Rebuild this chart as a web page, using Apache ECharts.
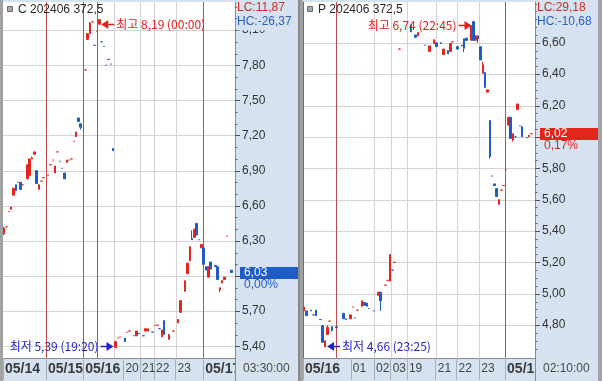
<!DOCTYPE html>
<html><head><meta charset="utf-8">
<script src="https://cdn.jsdelivr.net/npm/echarts@6/dist/echarts.min.js"></script>
<style>html,body{margin:0;padding:0;background:#fff}#c{width:602px;height:381px}</style>
</head><body><div id="c"></div>
<script>
// ---------------- DATA ----------------
const NBARS = 100; // bar slots per panel

// left panel (call)
const leftTitle = 'C 202406 372,5';
// [bar, open, close, low, high]
const leftCandles = [
 [0,6.36,6.41,6.35,6.42],[1,6.42,6.42,6.42,6.42],[2,6.55,6.55,6.55,6.55],[3,6.57,6.59,6.57,6.59],
 [4,6.69,6.75,6.69,6.75],[5,6.78,6.73,6.73,6.78],[6,6.80,6.80,6.80,6.80],[7,6.80,6.74,6.74,6.80],
 [8,6.78,6.78,6.78,6.78],[10,6.83,6.95,6.83,6.95],[11,6.86,7.00,6.86,7.00],[12,7.00,7.01,7.00,7.02],
 [13,7.04,7.06,7.04,7.06],[14,6.90,6.79,6.79,6.90],[15,6.74,6.78,6.74,6.78],[16,6.81,6.81,6.81,6.81],
 [17,6.84,6.84,6.84,6.84],[19,6.86,6.86,6.86,6.86],[20,6.95,6.95,6.95,6.95],[21,6.99,6.99,6.99,6.99],
 [22,6.88,6.94,6.88,6.94],[23,7.06,7.06,7.06,7.06],[24,6.98,6.98,6.98,6.98],[25,6.92,6.92,6.92,6.92],
 [26,6.88,6.83,6.83,6.88],[27,6.97,6.99,6.97,6.99],[28,6.99,6.99,6.99,6.99],[29,7.00,7.00,7.00,7.00],
 [30,7.15,7.15,7.15,7.15],[31,7.19,7.23,7.19,7.23],[32,7.35,7.32,7.32,7.35],[33,7.30,7.27,7.25,7.30],
 [35,7.76,7.76,7.76,7.76],[36,8.02,8.07,8.02,8.07],[37,8.07,8.16,8.07,8.17],[38,8.17,8.17,8.17,8.17],
 [39,7.97,7.97,7.97,7.97],[40,8.09,8.09,8.09,8.09],[41,8.15,8.19,8.15,8.19],[42,8.00,8.00,8.00,8.00],
 [43,7.96,7.96,7.96,7.96],[44,7.80,7.80,7.80,7.80],[45,7.85,7.85,7.85,7.85],[46,7.81,7.81,7.81,7.81],
 [47,7.09,7.07,7.07,7.09],[48,5.39,5.44,5.39,5.44],[49,5.47,5.47,5.47,5.47],[50,5.48,5.48,5.48,5.48],
 [52,5.47,5.44,5.44,5.47],[53,5.52,5.52,5.52,5.52],[54,5.53,5.53,5.53,5.53],[56,5.49,5.49,5.49,5.49],
 [57,5.49,5.53,5.49,5.53],[58,5.51,5.51,5.51,5.51],[60,5.49,5.49,5.49,5.49],[61,5.53,5.55,5.53,5.55],
 [62,5.53,5.55,5.53,5.55],[64,5.52,5.52,5.52,5.52],[65,5.58,5.58,5.58,5.58],[66,5.58,5.58,5.58,5.58],
 [67,5.55,5.55,5.55,5.55],[68,5.48,5.54,5.48,5.54],[69,5.62,5.50,5.50,5.62],[71,5.46,5.50,5.46,5.50],
 [73,5.53,5.53,5.53,5.53],[75,5.60,5.63,5.60,5.63],[76,5.69,5.79,5.69,5.79],[78,5.87,5.96,5.87,5.96],
 [79,6.02,6.11,6.02,6.11],[80,6.13,6.25,6.13,6.25],[81,6.32,6.31,6.31,6.39],[82,6.33,6.40,6.33,6.40],
 [83,6.45,6.35,6.35,6.45],[84,6.31,6.31,6.31,6.31],[85,6.24,6.27,6.24,6.27],[86,6.24,6.10,6.10,6.24],
 [87,6.08,6.05,6.05,6.08],[88,5.99,6.08,5.99,6.08],[89,6.12,6.06,6.06,6.12],[91,6.09,6.08,6.08,6.09],
 [92,6.08,5.97,5.97,6.08],[93,5.88,5.90,5.86,5.90],[94,5.94,5.96,5.94,5.96],[95,5.97,5.99,5.97,5.99],
 [96,6.34,6.34,6.34,6.34],[98,6.05,6.03,6.03,6.05]
];
const leftYRange = [5.30, 8.34];
const leftYTicks = [5.4, 5.7, 6.0, 6.3, 6.6, 6.9, 7.2, 7.5, 7.8, 8.1];
const leftYMinorStep = 0.1;
const leftRedLines = [18.0, 34.1, 40.0, 85.8];
const leftGrayLines = [47.3, 58.6, 64.6, 73.9];
const leftXTicks = [-0.5, 18.0, 34.1, 51.4, 58.6, 64.6, 73.9, 85.8];
const leftXLabels = ['05/14', '05/15', '05/16', '20', '21', '22', '23', '05/17'];
const leftExtremes = [[41, 8.19, '최고', '00:00'], [48, 5.39, '최저', '19:20']];
const leftLC = 'LC:11,87';
const leftHC = 'HC:-26,37';
const leftChange = '0,00%';
const leftClock = '03:30:00';

// right panel (put)
const rightTitle = 'P 202406 372,5';
const rightCandles = [
 [0,4.89,4.915,4.89,4.915],[1,4.89,4.86,4.86,4.89],[3,4.895,4.89,4.89,4.895],[4,4.865,4.865,4.865,4.865],
 [5,4.895,4.86,4.86,4.895],[7,4.835,4.835,4.835,4.835],[8,4.795,4.69,4.685,4.80],[9,4.66,4.70,4.66,4.70],
 [10,4.74,4.785,4.74,4.80],[11,4.825,4.825,4.825,4.825],[12,4.79,4.765,4.76,4.79],[14,4.79,4.785,4.785,4.79],
 [17,4.875,4.84,4.84,4.875],[18,4.84,4.835,4.835,4.84],[20,4.84,4.865,4.84,4.865],[21,4.915,4.915,4.915,4.915],
 [22,4.845,4.845,4.845,4.845],[23,4.895,4.895,4.895,4.895],[25,4.92,4.955,4.92,4.955],[26,4.945,4.925,4.925,4.945],
 [27,4.94,4.92,4.92,4.94],[28,4.905,4.905,4.905,4.905],[30,4.89,4.89,4.89,4.89],[32,4.99,5.01,4.99,5.01],
 [33,5.01,4.955,4.89,5.01],[35,5.055,5.055,5.055,5.055],[36,5.085,5.085,5.085,5.085],[37,5.08,5.25,5.08,5.25],
 [38,5.15,5.15,5.15,5.15],[39,5.20,5.20,5.20,5.20],[41,6.56,6.56,6.56,6.56],[46,6.715,6.67,6.67,6.715],
 [48,6.65,6.635,6.63,6.65],[49,6.645,6.665,6.645,6.665],[52,6.585,6.585,6.585,6.585],[54,6.545,6.58,6.545,6.58],
 [56,6.595,6.62,6.595,6.62],[57,6.60,6.575,6.575,6.60],[59,6.60,6.595,6.595,6.60],[60,6.525,6.56,6.525,6.56],
 [62,6.55,6.53,6.53,6.55],[63,6.545,6.595,6.545,6.595],[64,6.605,6.605,6.605,6.605],[66,6.575,6.56,6.56,6.575],
 [68,6.585,6.58,6.58,6.585],[69,6.625,6.565,6.54,6.625],[70,6.63,6.615,6.615,6.63],[72,6.615,6.71,6.615,6.71],
 [73,6.735,6.615,6.615,6.74],[74,6.615,6.645,6.615,6.645],[75,6.645,6.625,6.60,6.645],[76,6.575,6.49,6.49,6.575],
 [77,6.405,6.46,6.405,6.48],[78,6.41,6.315,6.315,6.41],[79,6.285,6.30,6.285,6.30],[80,6.105,5.875,5.86,6.105],
 [81,5.75,5.75,5.75,5.75],[82,5.70,5.69,5.69,5.70],[83,5.67,5.62,5.62,5.67],[84,5.57,5.60,5.565,5.60],
 [85,5.66,5.66,5.66,5.66],[86,5.69,5.69,5.69,5.69],[87,5.79,5.79,5.79,5.79],[88,6.075,6.125,6.075,6.125],
 [89,6.125,5.99,5.99,6.125],[90,5.98,6.02,5.97,6.02],[91,6.00,6.00,6.00,6.00],[92,6.175,6.21,6.175,6.21],
 [93,6.07,6.07,6.07,6.07],[94,6.065,6.00,6.00,6.065],[96,5.995,5.995,5.995,5.995],[97,6.00,6.01,6.00,6.01],
 [98,6.02,6.02,6.02,6.02]
];
const rightYRange = [4.59, 6.86];
const rightYTicks = [4.8, 5.0, 5.2, 5.4, 5.6, 5.8, 6.0, 6.2, 6.4, 6.6];
const rightYMinorStep = 0.05;
const rightRedLines = [-0.5, 13.7, 86.6];
const rightGrayLines = [30.1, 37.3, 44.3, 56.7, 65.7, 75.5];
const rightXTicks = [-0.5, 20.1, 30.1, 37.3, 44.3, 56.7, 65.7, 75.5, 86.6];
const rightXLabels = ['05/16', '01', '02', '03', '19', '21', '22', '23', '05/17'];
const rightExtremes = [[73, 6.74, '최고', '22:45'], [9, 4.66, '최저', '23:25']];
const rightLC = 'LC:29,18';
const rightHC = 'HC:-10,68';
const rightChange = '0,17%';
const rightClock = '02:10:00';

// ---------------- STYLE ----------------
const UP = '#e3261c', DOWN = '#1f5cc5';
const RED_LINE = '#c44b4b', GRID_C = '#d4d4d4', BG = '#d6e2ef', AXIS_C = '#8c8c8c';
const NUM_FONT = '"Liberation Sans", Arial, sans-serif';
const KO_FONT = '"Noto Sans CJK KR", "Noto Sans", sans-serif';
const HIGH_C = '#e0201a', LOW_C = '#2424c4';

const fmtNum = v => v.toFixed(2).replace('.', ',');
const mctx = document.createElement('canvas').getContext('2d');
mctx.font = '12px ' + KO_FONT;

const panels = [
  {left: 3, title: leftTitle, candles: leftCandles, yRange: leftYRange, yTicks: leftYTicks, minorStep: leftYMinorStep,
   red: leftRedLines, gray: leftGrayLines, xTicks: leftXTicks, xLabels: leftXLabels, ext: leftExtremes,
   lc: leftLC, hc: leftHC, change: leftChange, clock: leftClock},
  {left: 303, title: rightTitle, candles: rightCandles, yRange: rightYRange, yTicks: rightYTicks, minorStep: rightYMinorStep,
   red: rightRedLines, gray: rightGrayLines, xTicks: rightXTicks, xLabels: rightXLabels, ext: rightExtremes,
   lc: rightLC, hc: rightHC, change: rightChange, clock: rightClock}
];
const PW = 232, PT = 2, PH = 356;

const grid = [], xAxis = [], yAxis = [], series = [], graphic = [];

panels.forEach((P, i) => {
  grid.push({left: P.left, top: PT, width: PW, height: PH, show: true, backgroundColor: '#fff', borderWidth: 0});
  const last = P.candles[P.candles.length - 1];
  const lastClose = last[2];
  const prev = P.candles[P.candles.length - 2][2];
  const boxColor = lastClose > prev ? UP : DOWN;
  const pxPerVal = PH / (P.yRange[1] - P.yRange[0]);

  xAxis.push({
    type: 'value', gridIndex: i, min: -0.5, max: NBARS - 0.5,
    axisLine: {show: true, onZero: false, lineStyle: {color: AXIS_C}},
    axisTick: {show: true, customValues: P.xTicks, length: 22, inside: false, lineStyle: {color: '#a3afbf'}},
    axisLabel: {
      customValues: P.xTicks, margin: 3, align: 'left',
      formatter: v => {
        const k = P.xTicks.indexOf(v);
        if (k < 0) return '';
        const t = P.xLabels[k];
        return t.indexOf('/') >= 0 ? '{d|' + t + '}' : '{h|' + t + '}';
      },
      rich: {
        d: {fontFamily: NUM_FONT, fontWeight: 'bold', fontSize: 14, color: '#3a3a3a', lineHeight: 16, padding: [0, 0, 0, 2]},
        h: {fontFamily: NUM_FONT, fontSize: 12, color: '#444', lineHeight: 16, padding: [0, 0, 0, 2]}
      }
    },
    splitLine: {show: false}
  });
  yAxis.push({
    type: 'value', gridIndex: i, position: 'right', min: P.yRange[0], max: P.yRange[1],
    axisLine: {show: true, onZero: false, lineStyle: {color: AXIS_C}},
    axisTick: {show: false},
    axisLabel: {
      customValues: P.yTicks, margin: 7, color: '#333', fontSize: 12, fontFamily: NUM_FONT,
      formatter: v => (Math.abs(v - lastClose) * pxPerVal < 12 ? '' : fmtNum(v))
    },
    splitLine: {show: false}
  });

  // minor tick values on the price axis
  const minor = [];
  for (let v = P.yTicks[0] - 3 * P.minorStep; v < P.yRange[1]; v += P.minorStep) {
    const r = Math.round(v * 1000) / 1000;
    if (r > P.yRange[0] && !P.yTicks.some(t => Math.abs(t - r) < 1e-6)) minor.push(r);
  }

  // grid lines + price-axis ticks
  const gl = [];
  P.gray.forEach(v => gl.push([v, 0]));
  P.yTicks.forEach(v => gl.push([v, 2]));
  minor.forEach(v => gl.push([v, 3]));
  P.red.forEach(v => gl.push([v, 1]));
  series.push({
    type: 'custom', xAxisIndex: i, yAxisIndex: i, z: 1, silent: true, animation: false, clip: false,
    data: gl,
    renderItem: (params, api) => {
      const kind = api.value(1);
      const cs = params.coordSys;
      const x0 = cs.x + cs.width;
      if (kind === 2 || kind === 3) {
        const y = Math.round(api.coord([0, api.value(0)])[1]) + 0.5;
        if (kind === 3) {
          return {type: 'line', shape: {x1: x0, y1: y, x2: x0 + 2.5, y2: y}, style: {stroke: '#666', lineWidth: 1}};
        }
        return {type: 'group', children: [
          {type: 'line', shape: {x1: cs.x, y1: y, x2: x0, y2: y}, style: {stroke: GRID_C, lineWidth: 1}},
          {type: 'line', shape: {x1: x0, y1: y, x2: x0 + 5, y2: y}, style: {stroke: '#555', lineWidth: 1}}
        ]};
      }
      const x = Math.round(api.coord([api.value(0), P.yRange[0]])[0]) + 0.5;
      return {type: 'line', shape: {x1: x, y1: cs.y, x2: x, y2: cs.y + cs.height},
        style: {stroke: kind === 1 ? RED_LINE : GRID_C, lineWidth: 1}, z2: kind === 1 ? 2 : 1};
    }
  });
  series.push({
    type: 'candlestick', xAxisIndex: i, yAxisIndex: i, z: 3, animation: false,
    data: P.candles, barWidth: 2,
    itemStyle: {color: UP, color0: DOWN, borderColor: UP, borderColor0: DOWN, borderWidth: 1}
  });
  // current price box + change
  series.push({
    type: 'custom', xAxisIndex: i, yAxisIndex: i, z: 5, silent: true, animation: false, clip: false,
    data: [[last[0], lastClose]],
    renderItem: (params, api) => {
      const cs = params.coordSys;
      const y = Math.round(api.coord([api.value(0), api.value(1)])[1]);
      const x = cs.x + cs.width + 5;
      return {type: 'group', children: [
        {type: 'rect', shape: {x: x, y: y - 6, width: 58, height: 12}, style: {fill: boxColor}},
        {type: 'text', x: x + 4, y: y, style: {text: fmtNum(api.value(1)), fill: '#fff', font: '12px ' + NUM_FONT, verticalAlign: 'middle'}},
        {type: 'text', x: x + 4, y: y + 12, style: {text: P.change, fill: boxColor, font: '12px ' + NUM_FONT, verticalAlign: 'middle'}}
      ]};
    }
  });
  // high / low annotations
  series.push({
    type: 'custom', xAxisIndex: i, yAxisIndex: i, z: 4, silent: true, animation: false, clip: false,
    data: P.ext.map(e => [e[0], e[1]]),
    renderItem: (params, api) => {
      const e = P.ext[params.dataIndex];
      const isHigh = e[2] === '최고';
      const color = isHigh ? HIGH_C : LOW_C;
      const p = api.coord([e[0], e[1]]);
      const y = Math.round(p[1] + (isHigh ? 4 : -1.5)) + 0.5;
      const text = e[2] + ' ' + fmtNum(e[1]) + ' (' + e[3] + ')';
      const tw = mctx.measureText(text).width;
      const cs = params.coordSys;
      const leftSide = (p[0] - cs.x) > tw + 20;
      const dir = leftSide ? -1 : 1;
      const tip = p[0] + dir * 2;
      const tail = tip + dir * 13;
      return {type: 'group', children: [
        {type: 'line', shape: {x1: tip + dir * 5, y1: y, x2: tail, y2: y}, style: {stroke: color, lineWidth: 1.5}},
        {type: 'polygon', shape: {points: [[tip, y], [tip + dir * 7, y - 4.5], [tip + dir * 7, y + 4.5]]}, style: {fill: color}},
        {type: 'text', x: tail + dir * 2, y: y, style: {text: text, fill: color, font: '12px ' + KO_FONT,
          align: leftSide ? 'right' : 'left', verticalAlign: 'middle'}}
      ]};
    }
  });

  const ax = P.left + PW; // axis area start
  // title
  graphic.push({type: 'rect', shape: {x: P.left + 4.5, y: 6.5, width: 5, height: 5}, style: {fill: '#a8a8a8', stroke: '#6e6e6e', lineWidth: 1}, z: 50});
  graphic.push({type: 'text', x: P.left + 15, y: 10, style: {text: P.title, fill: '#2a2a2a', font: '12px ' + NUM_FONT, verticalAlign: 'middle'}, z: 50});
  // LC / HC (opaque boxes hide the top tick label like the original)
  graphic.push({type: 'text', x: ax + 2, y: 8, style: {text: P.lc, fill: '#d22a22', font: '12px ' + NUM_FONT, verticalAlign: 'middle',
    backgroundColor: BG, padding: [1, 8, 1, 0]}, z: 50});
  graphic.push({type: 'text', x: ax + 2, y: 22, style: {text: P.hc, fill: '#2a62c2', font: '12px ' + NUM_FONT, verticalAlign: 'middle',
    backgroundColor: BG, padding: [1, 6, 4, 0]}, z: 50});
  // strip cover under axis area + clock
  graphic.push({type: 'rect', shape: {x: ax + 0.5, y: PT + PH + 1, width: 63, height: 22}, style: {fill: BG}, z: 100});
  graphic.push({type: 'line', shape: {x1: ax + 0.5, y1: PT + PH, x2: ax + 0.5, y2: 381}, style: {stroke: AXIS_C, lineWidth: 1}, z: 101});
  graphic.push({type: 'text', x: ax + 8, y: 369, style: {text: P.clock, fill: '#4a4a4a', font: '12px ' + NUM_FONT, verticalAlign: 'middle'}, z: 101});
});

// panel borders
graphic.push({type: 'rect', shape: {x: 0, y: 0, width: 3, height: 381}, style: {fill: '#a2a2a2'}, z: 102});
graphic.push({type: 'rect', shape: {x: 298, y: 0, width: 2, height: 381}, style: {fill: '#8a8a8a'}, z: 102});
graphic.push({type: 'rect', shape: {x: 300, y: 0, width: 3, height: 381}, style: {fill: '#a2a2a2'}, z: 102});
graphic.push({type: 'rect', shape: {x: 598, y: 0, width: 4, height: 381}, style: {fill: '#a2a2a2'}, z: 102});

const chart = echarts.init(document.getElementById('c'), null, {renderer: 'canvas'});
chart.setOption({
  backgroundColor: BG,
  animation: false,
  grid, xAxis, yAxis, series, graphic
});
</script></body></html>
